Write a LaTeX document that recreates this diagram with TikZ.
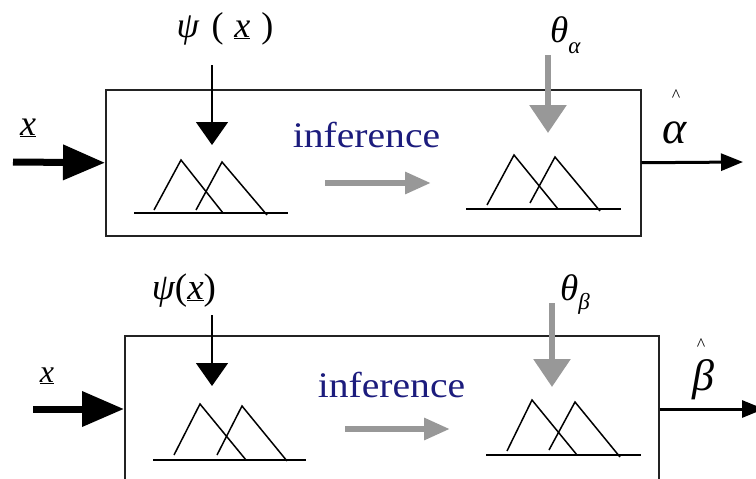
\documentclass[tikz,border=0pt]{standalone}
\usepackage{fontspec}
\setmainfont{Liberation Serif}
\usetikzlibrary{arrows.meta}
\definecolor{infblue}{RGB}{28,28,125}
\definecolor{arrgray}{RGB}{152,152,152}
\definecolor{boxgray}{RGB}{35,35,35}
\begin{document}
\begin{tikzpicture}[x=1pt,y=-1pt,
  boxline/.style={line width=1.5pt, draw=boxgray, inner sep=0pt},
  mfline/.style={line width=1.5pt, black, line join=miter},
  inarrow/.style={line width=7pt, -{Triangle[length=42pt,width=34pt]}},
  dnarrow/.style={line width=1.5pt, -{Triangle[length=23pt,width=32pt]}},
  grdown/.style={line width=6pt, arrgray, -{Triangle[length=28pt,width=36pt]}},
  grright/.style={line width=6pt, arrgray, -{Triangle[length=26pt,width=21pt]}},
  outarrow/.style={line width=3pt, -{Triangle[length=22pt,width=17pt]}},
  lbl/.style={inner sep=0pt},
  inf/.style={text=infblue, font=\fontsize{36}{40}\selectfont, inner sep=0pt, anchor=base}
]
\clip (0,0) rectangle (756,479);

% ---------------- top panel ----------------
\node[draw, boxline, minimum width=535pt, minimum height=146pt, anchor=north west] (box1) at (105,89) {};
\coordinate (in1) at (13,162);
\draw[inarrow] (in1) -- (box1.west);
\node[lbl, anchor=base, font=\fontsize{36}{40}\selectfont] (x1) at (28,135) {\underline{\itshape x}};

\node[lbl, anchor=base, font=\fontsize{36}{38}\selectfont] (psi1) at (225,37) {{\itshape ψ}\hspace{0.35em}(\hspace{0.3em}\underline{\itshape x}\hspace{0.3em})};
\coordinate (psi1s) at (212,65);
\coordinate (mf1top) at (212,145);
\draw[dnarrow] (psi1s) -- (mf1top);

\draw[mfline] (134,213) -- (288,213);
\draw[mfline] (154,210) -- (181,160) -- (223,213);
\draw[mfline] (196,210) -- (222,162) -- (267,215);

\node[inf] (inf1) at (366.5,147) {\scalebox{1.1}[1]{inference}};
\coordinate (g1s) at (325,183);
\coordinate (g1e) at (431,183);
\draw[grright] (g1s) -- (g1e);

\node[lbl, anchor=base west, font=\fontsize{37}{40}\selectfont] (tha) at (550,42) {{\itshape θ}\raisebox{-0.3em}{\fontsize{23}{24}\selectfont\itshape α}};
\coordinate (tha_s) at (548,55);
\coordinate (mf2top) at (548,133);
\draw[grdown] (tha_s) -- (mf2top);

\draw[mfline] (466,209) -- (621,209);
\draw[mfline] (487,205) -- (514,155) -- (558,209);
\draw[mfline] (530,203) -- (555,157) -- (600,211);

\coordinate (out1) at (743,162);
\draw[outarrow] (box1.east) -- (out1);
\node[lbl, font=\fontsize{46}{48}\selectfont] (alpha) at (675,133) {\itshape α};
\node[lbl, font=\fontsize{18}{20}\selectfont] (hat1) at (676,96) {\textasciicircum};

% ---------------- bottom panel ----------------
\node[draw, boxline, minimum width=534pt, minimum height=170pt, anchor=north west] (box2) at (124,335) {};
\coordinate (in2) at (33,409);
\draw[inarrow] (in2) -- (in2 -| box2.west);
\node[lbl, anchor=base, font=\fontsize{32}{34}\selectfont] (x2) at (47,382) {\underline{\itshape x}};

\node[lbl, anchor=base, font=\fontsize{37}{40}\selectfont] (psi2) at (184,299) {{\itshape ψ}(\underline{\itshape x})};
\coordinate (psi2s) at (212,315);
\coordinate (mf3top) at (212,386);
\draw[dnarrow] (psi2s) -- (mf3top);

\draw[mfline] (153,460) -- (306,460);
\draw[mfline] (174,455) -- (200,404) -- (246,460);
\draw[mfline] (217,455) -- (242,406) -- (287,461);

\node[inf] (inf2) at (391.5,397) {\scalebox{1.1}[1]{inference}};
\coordinate (g2s) at (345,429);
\coordinate (g2e) at (450,429);
\draw[grright] (g2s) -- (g2e);

\node[lbl, anchor=base west, font=\fontsize{37}{40}\selectfont] (thb) at (560,300) {{\itshape θ}\raisebox{-0.25em}{\fontsize{23}{24}\selectfont\itshape β}};
\coordinate (thb_s) at (552,303);
\coordinate (mf4top) at (552,387);
\draw[grdown] (thb_s) -- (mf4top);

\draw[mfline] (486,455) -- (641,455);
\draw[mfline] (507,451) -- (532,400) -- (577,455);
\draw[mfline] (549,450) -- (575,402) -- (620,457);

\coordinate (out2) at (764,409);
\draw[outarrow] (out2 -| box2.east) -- (out2);
\node[lbl, font=\fontsize{44}{46}\selectfont] (beta) at (703,380) {\itshape β};
\node[lbl, font=\fontsize{18}{20}\selectfont] (hat2) at (701,345) {\textasciicircum};
\end{tikzpicture}
\end{document}
